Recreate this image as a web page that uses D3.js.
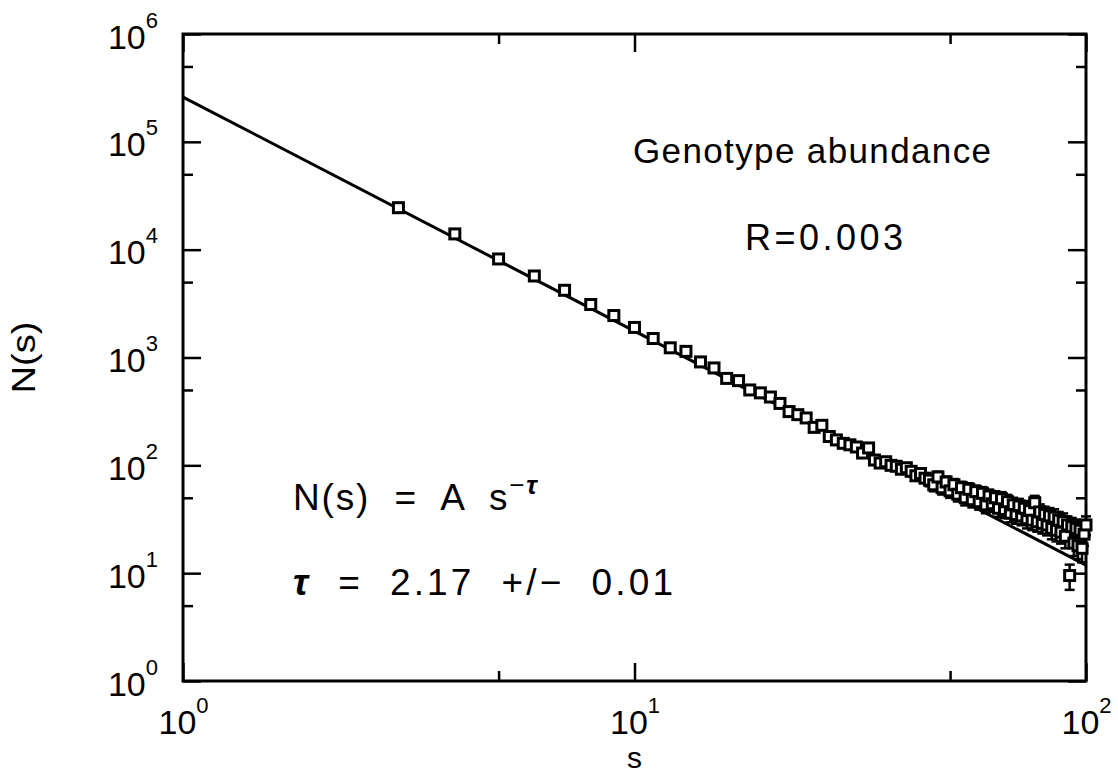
<!DOCTYPE html>
<html>
<head>
<meta charset="utf-8">
<script src="https://cdn.jsdelivr.net/npm/d3@7"></script>
<style>
  body { margin: 0; background: #fff; }
  text { font-family: "Liberation Sans", Arial, sans-serif; fill: #000; }
</style>
</head>
<body>
<div id="chart"></div>
<script>
// cluster size s (integers 3..100)
const sizes = [3,4,5,6,7,8,9,10,11,12,13,14,15,16,17,18,19,20,21,22,23,24,25,26,27,28,29,30,
  31,32,33,34,35,36,37,38,39,40,41,42,43,44,45,46,47,48,49,50,51,52,53,54,55,56,57,58,59,60,
  61,62,63,64,65,66,67,68,69,70,71,72,73,74,75,76,77,78,79,80,81,82,83,84,85,86,87,88,89,90,
  91,92,93,94,95,96,97,98,99,100];

// N(s)
const counts = [24500,14000,8200,5700,4200,3100,2450,1900,1500,1230,1140,910,800,640,610,500,470,430,375,315,295,275,225,
  235,185,172,160,155,148,130,145,112,105,108,100,98,92,95,88,80,84,76,
  73,66,78,62,70,58,66,54,62,50,60,48,57,46,55,43,52,44,50,40,49,39,46,36,43,35,
  42,34,40,32,38,31,45,30,37,29,35,28,34,26,33,25,31,24,30,22,28,9.5,27,19,26,18,25,17,23,28];

// error bars (absolute)
const countErr = [128,97,74,62,53,45,40,36,32,29,28,25,23,21,20,18,18,17,16,14,14,14,12,
  12.5,11,10.7,10.3,10.2,9.9,9.3,9.8,8.6,8.4,8.5,8.2,8.1,7.8,8,7.7,7.3,7.5,7.1,
  9,8.6,9.4,8.4,8.8,8.1,8.6,7.8,8.4,7.5,8.2,7.3,8,7.2,7.8,7,7.6,7,7.5,6.7,7.4,6.6,7.2,6.4,7,6.3,
  6.9,6.2,6.7,6,6.5,5.9,7.1,5.8,6.4,5.7,6.3,5.6,6.2,5.4,6.1,5.3,5.9,5.2,5.8,5,5.6,2.5,5.5,4.6,5.4,4.5,5.3,4.4,5.1,5.6];

// fit N(s) = A s^-tau
const fitA = 2.6e5, fitTau = 2.17;

const xMajor = [1, 10, 100];
const xMinor = [5, 50];
const yMajor = [1, 10, 100, 1000, 10000, 100000, 1000000];
const yMinor = [5, 50, 500, 5000, 50000, 500000];

const W = 1118, H = 776;
const margin = {top: 34, right: 32, bottom: 95, left: 183};
const width = W - margin.left - margin.right, height = H - margin.top - margin.bottom;

const svg = d3.select("#chart").append("svg")
  .attr("width", W).attr("height", H)
  .append("g")
  .attr("transform", `translate(${margin.left},${margin.top})`);

const x = d3.scaleLog().domain([1, 100]).range([0, width]);
const y = d3.scaleLog().domain([1, 1e6]).range([height, 0]);

const data = sizes.map((s, i) => ({s, n: counts[i], e: countErr[i]}));

const majLen = 18, minLen = 10;

function supLabel(sel) {
  sel.each(function(d) {
    const t = d3.select(this).text(null);
    t.append("tspan").text("10");
    t.append("tspan").attr("dy", -21).attr("font-size", 22)
      .text(Math.round(Math.log10(d)));
  });
}

// ticks on all four sides, pointing inward
function styleAxis(g) {
  g.select(".domain").remove();
  g.selectAll(".tick line").attr("stroke", "#000").attr("stroke-width", 2.5);
}

svg.append("g").attr("transform", `translate(0,${height})`)
  .call(d3.axisBottom(x).tickValues(xMajor).tickSize(-majLen).tickPadding(29))
  .call(styleAxis)
  .selectAll(".tick text").attr("font-size", 34).call(supLabel);
svg.append("g").attr("transform", `translate(0,${height})`)
  .call(d3.axisBottom(x).tickValues(xMinor).tickSize(-minLen).tickFormat(""))
  .call(styleAxis);
svg.append("g")
  .call(d3.axisTop(x).tickValues(xMajor).tickSize(-majLen).tickFormat(""))
  .call(styleAxis);
svg.append("g")
  .call(d3.axisTop(x).tickValues(xMinor).tickSize(-minLen).tickFormat(""))
  .call(styleAxis);

svg.append("g")
  .call(d3.axisLeft(y).tickValues(yMajor).tickSize(-majLen).tickPadding(25))
  .call(styleAxis)
  .selectAll(".tick text").attr("font-size", 34).attr("dy", 14).call(supLabel);
svg.append("g")
  .call(d3.axisLeft(y).tickValues(yMinor).tickSize(-minLen).tickFormat(""))
  .call(styleAxis);
svg.append("g").attr("transform", `translate(${width},0)`)
  .call(d3.axisRight(y).tickValues(yMajor).tickSize(-majLen).tickFormat(""))
  .call(styleAxis);
svg.append("g").attr("transform", `translate(${width},0)`)
  .call(d3.axisRight(y).tickValues(yMinor).tickSize(-minLen).tickFormat(""))
  .call(styleAxis);

// frame
svg.append("rect")
  .attr("width", width).attr("height", height)
  .attr("fill", "none").attr("stroke", "#000").attr("stroke-width", 3);

// fit line
const fitS = [1, 100];
svg.append("path")
  .datum(fitS)
  .attr("fill", "none").attr("stroke", "#000").attr("stroke-width", 3)
  .attr("d", d3.line().x(s => x(s)).y(s => y(fitA * Math.pow(s, -fitTau))));

// error bars
const eb = svg.append("g").attr("stroke", "#000").attr("stroke-width", 2.5);
eb.selectAll("line.v").data(data).enter().append("line")
  .attr("x1", d => x(d.s)).attr("x2", d => x(d.s))
  .attr("y1", d => y(d.n + d.e)).attr("y2", d => y(d.n - d.e));
eb.selectAll("line.t").data(data).enter().append("line")
  .attr("x1", d => x(d.s) - 5).attr("x2", d => x(d.s) + 5)
  .attr("y1", d => y(d.n + d.e)).attr("y2", d => y(d.n + d.e));
eb.selectAll("line.b").data(data).enter().append("line")
  .attr("x1", d => x(d.s) - 5).attr("x2", d => x(d.s) + 5)
  .attr("y1", d => y(d.n - d.e)).attr("y2", d => y(d.n - d.e));

// open squares
const sq = 10;
svg.append("g").selectAll("rect").data(data).enter().append("rect")
  .attr("x", d => x(d.s) - sq / 2).attr("y", d => y(d.n) - sq / 2)
  .attr("width", sq).attr("height", sq)
  .attr("fill", "#fff").attr("stroke", "#000").attr("stroke-width", 3);

// annotations
svg.append("text").attr("x", 450).attr("y", 129).attr("font-size", 35)
  .attr("textLength", 358).attr("lengthAdjust", "spacing").text("Genotype abundance");
svg.append("text").attr("x", 562).attr("y", 216).attr("font-size", 36)
  .attr("textLength", 158).attr("lengthAdjust", "spacing").text("R=0.003");

const f1 = svg.append("text").attr("x", 110).attr("y", 476).attr("font-size", 37)
  .attr("xml:space", "preserve").attr("textLength", 244).attr("lengthAdjust", "spacing");
f1.append("tspan").text("N(s)  =  A  s");
f1.append("tspan").attr("dy", -16).attr("font-size", 26).text("−");
f1.append("tspan").attr("font-style", "italic").attr("font-weight", "bold").attr("font-size", 26).text("τ");

const f2 = svg.append("text").attr("x", 110).attr("y", 561).attr("font-size", 37)
  .attr("xml:space", "preserve").attr("textLength", 380).attr("lengthAdjust", "spacing");
f2.append("tspan").attr("font-style", "italic").attr("font-weight", "bold").text("τ");
f2.append("tspan").text("  =  2.17  +/−  0.01");

// axis titles
svg.append("text").attr("x", width / 2).attr("y", height + 87).attr("text-anchor", "middle")
  .attr("font-size", 30).text("s");
svg.append("text").attr("transform", `translate(${-148},${height / 2}) rotate(-90)`)
  .attr("text-anchor", "middle").attr("font-size", 34)
  .attr("textLength", 72).attr("lengthAdjust", "spacingAndGlyphs").text("N(s)");
</script>
</body>
</html>
